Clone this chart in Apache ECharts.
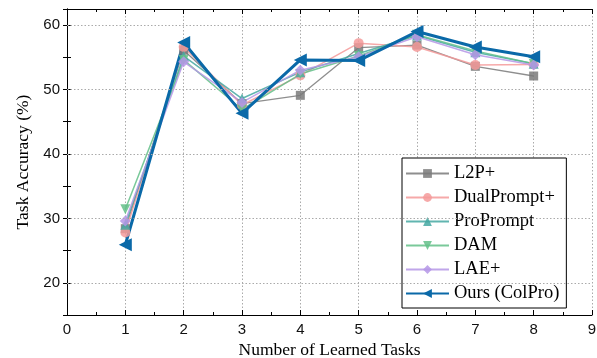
<!DOCTYPE html>
<html><head><meta charset="utf-8">
<script src="https://cdn.jsdelivr.net/npm/echarts@6/dist/echarts.min.js"></script>
<style>html,body{margin:0;padding:0;background:#fff}#c{width:597px;height:358px}</style>
</head><body><div id="c"></div>
<script>
const tasks = [1, 2, 3, 4, 5, 6, 7, 8];
const l2p = [28.4, 56.1, 47.8, 49.1, 56.5, 56.9, 53.6, 52.1];
const dualPrompt = [27.8, 56.6, 47.6, 52.2, 57.2, 56.6, 53.8, 53.9];
const proPrompt = [29.0, 55.2, 48.6, 52.7, 55.6, 58.4, 55.8, 54.0];
const dam = [31.4, 54.6, 46.9, 52.4, 55.2, 58.5, 56.0, 54.0];
const lae = [29.6, 54.3, 48.0, 53.0, 55.1, 58.2, 55.4, 53.8];
const ours = [25.9, 57.3, 46.3, 54.6, 54.5, 59.0, 56.6, 55.1];
const yTicks = [20, 30, 40, 50, 60];
const xTicks = [0, 1, 2, 3, 4, 5, 6, 7, 8, 9];

const pair = arr => tasks.map((t, i) => [t, arr[i]]);
const serif = 'Liberation Serif';
const sans = 'Liberation Sans';

function mk(name, data, color, symbol, size, width, rot, opacity) {
  return {
    name, type: 'line', data: pair(data), symbol, symbolSize: size, symbolRotate: rot || 0,
    lineStyle: {color, width, opacity: opacity},
    itemStyle: {color, opacity: opacity},
    z: 2
  };
}

const chart = echarts.init(document.getElementById('c'), null, {renderer: 'canvas'});
const axisLineStyle = {color: '#000', width: 1};
const gridStyle = {color: '#aaa', type: [1.5, 2], width: 1};
chart.setOption({
  animation: false,
  grid: {left: 67, right: 5, top: 9, bottom: 43, containLabel: false, outerBoundsMode: 'none'},
  legend: {
    orient: 'vertical', left: 402, top: 158,
    backgroundColor: '#fff', borderColor: '#000', borderWidth: 1,
    padding: [6, 7, 5, 3], itemGap: 5, itemWidth: 43, itemHeight: 11,
    textStyle: {fontFamily: serif, fontSize: 18.5, color: '#000'},
    data: ['L2P+', 'DualPrompt+', 'ProPrompt', 'DAM', 'LAE+', 'Ours (ColPro)']
  },
  xAxis: [{
    type: 'value', min: 0, max: 9, interval: 1,
    name: 'Number of Learned Tasks', nameLocation: 'middle', nameGap: 23,
    nameTextStyle: {fontFamily: serif, fontSize: 17.5, color: '#000'},
    axisLine: {lineStyle: axisLineStyle},
    axisTick: {inside: true, length: 5, lineStyle: axisLineStyle},
    minorTick: {show: true, splitNumber: 2, length: 3, lineStyle: axisLineStyle},
    axisLabel: {fontFamily: sans, fontSize: 15, color: '#111', margin: 7},
    splitLine: {show: true, lineStyle: gridStyle}
  }, {
    type: 'value', min: 0, max: 9, interval: 1, position: 'top',
    axisLine: {show: true, lineStyle: axisLineStyle},
    axisTick: {inside: true, length: 5, lineStyle: axisLineStyle},
    minorTick: {show: true, splitNumber: 2, length: 3, lineStyle: axisLineStyle},
    axisLabel: {show: false}, splitLine: {show: false}
  }],
  yAxis: [{
    type: 'value', min: 15, max: 62.5, interval: 5,
    name: 'Task Accuracy (%)', nameLocation: 'middle', nameGap: 33,
    nameTextStyle: {fontFamily: serif, fontSize: 17.5, color: '#000'},
    axisLine: {show: true, lineStyle: axisLineStyle},
    axisTick: {inside: true, length: 4, lineStyle: axisLineStyle},
    axisLabel: {fontFamily: sans, fontSize: 15, color: '#111', margin: 7,
      formatter: v => (yTicks.indexOf(v) >= 0 ? String(v) : '')},
    splitLine: {show: false}
  }, {
    type: 'value', min: 15, max: 62.5, interval: 5, position: 'right',
    axisLine: {show: true, lineStyle: axisLineStyle},
    axisTick: {inside: true, length: 4, lineStyle: axisLineStyle},
    axisLabel: {show: false}, splitLine: {show: false}
  }],
  series: [
    {
      type: 'line', data: [], z: 0, silent: true,
      markLine: {
        silent: true, symbol: 'none', label: {show: false}, animation: false,
        lineStyle: gridStyle,
        data: yTicks.map(v => ({yAxis: v}))
      }
    },
    mk('L2P+', l2p, '#7a7a7a', 'rect', 9, 1.3, 0, 0.85),
    mk('DualPrompt+', dualPrompt, '#f59a9a', 'circle', 10, 1.5, 0, 0.85),
    mk('ProPrompt', proPrompt, '#45a8a2', 'triangle', 10, 1.5, 0, 0.85),
    mk('DAM', dam, '#63c088', 'triangle', 10, 1.5, 180, 0.85),
    mk('LAE+', lae, '#b596e6', 'diamond', 11, 1.5, 0, 0.85),
    mk('Ours (ColPro)', ours, '#0a69a8', 'triangle', 13, 3, 90, 1)
  ]
});
</script></body></html>
